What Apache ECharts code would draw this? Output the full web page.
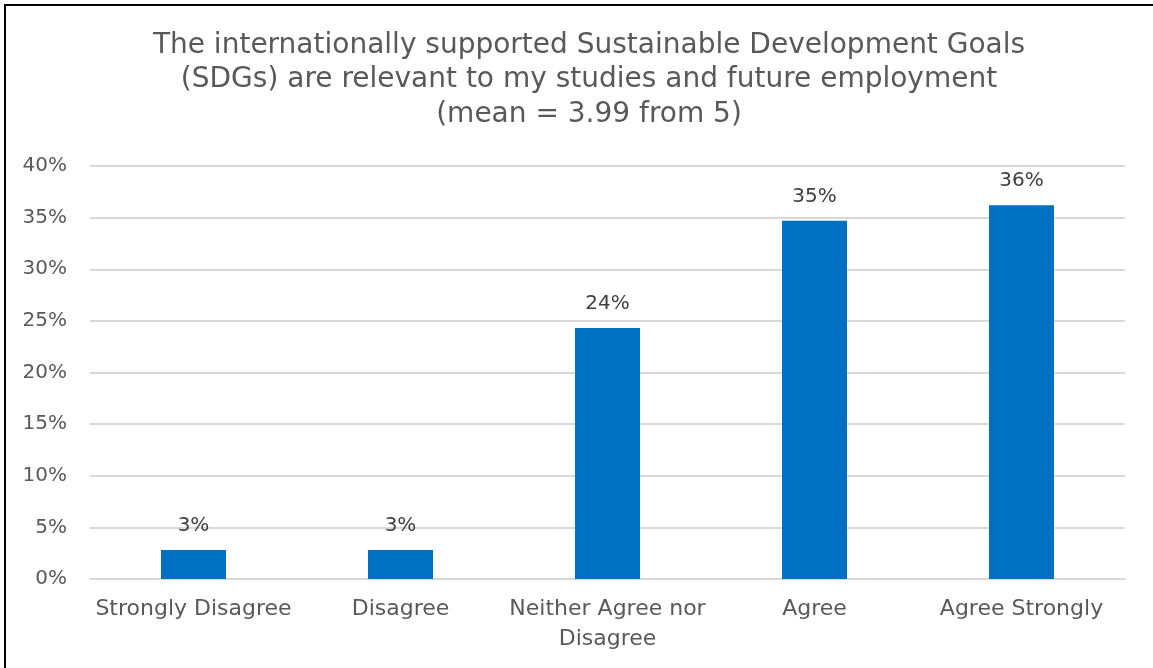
<!DOCTYPE html>
<html>
<head>
<meta charset="utf-8">
<script src="https://cdn.jsdelivr.net/npm/echarts@6/dist/echarts.min.js"></script>
<style>
  html, body { margin: 0; padding: 0; background: #fff; }
  #chart { width: 1153px; height: 668px; }
</style>
</head>
<body>
<div id="chart"></div>
<script>
// Survey response shares (%) for the SDG relevance question
const categories = ['Strongly Disagree', 'Disagree', 'Neither Agree nor\nDisagree', 'Agree', 'Agree Strongly'];
const shares = [2.8, 2.8, 24.3, 34.7, 36.2];
const titleLines = [
  'The internationally supported Sustainable Development Goals',
  '(SDGs) are relevant to my studies and future employment',
  '(mean = 3.99 from 5)'
];

const FONT = '"DejaVu Sans", sans-serif';
const GREY = '#595959';

const chart = echarts.init(document.getElementById('chart'), null, { renderer: 'canvas' });
chart.setOption({
  animation: false,
  backgroundColor: '#fff',
  title: {
    text: titleLines.join('\n'),
    left: 584,
    textAlign: 'center',
    top: 23,
    textStyle: {
      fontFamily: FONT,
      fontWeight: 'normal',
      fontSize: 28,
      lineHeight: 34.5,
      color: GREY
    }
  },
  graphic: [{
    type: 'rect',
    shape: { x: 5, y: 5, width: 1200, height: 700 },
    style: { fill: 'none', stroke: '#000', lineWidth: 2 },
    silent: true
  }],
  grid: { left: 90, right: 28, top: 166, bottom: 89, containLabel: false },
  xAxis: {
    type: 'category',
    data: categories,
    axisLine: { show: true, lineStyle: { color: '#d9d9d9', width: 2 } },
    axisTick: { show: false },
    axisLabel: {
      fontFamily: FONT,
      fontSize: 22,
      lineHeight: 30,
      color: GREY,
      margin: 15,
      interval: 0
    }
  },
  yAxis: {
    type: 'value',
    min: 0,
    max: 40,
    interval: 5,
    axisLine: { show: false },
    axisTick: { show: false },
    splitLine: { lineStyle: { color: '#d9d9d9', width: 2 } },
    axisLabel: {
      fontFamily: FONT,
      fontSize: 20,
      color: GREY,
      margin: 23,
      formatter: v => v + '%'
    }
  },
  series: [{
    type: 'bar',
    data: shares,
    barWidth: '31.4%',
    itemStyle: { color: '#0070c0' },
    label: {
      show: true,
      position: 'top',
      distance: 14,
      fontFamily: FONT,
      fontSize: 20,
      color: '#404040',
      formatter: p => Math.round(p.value) + '%'
    }
  }]
});
</script>
</body>
</html>
